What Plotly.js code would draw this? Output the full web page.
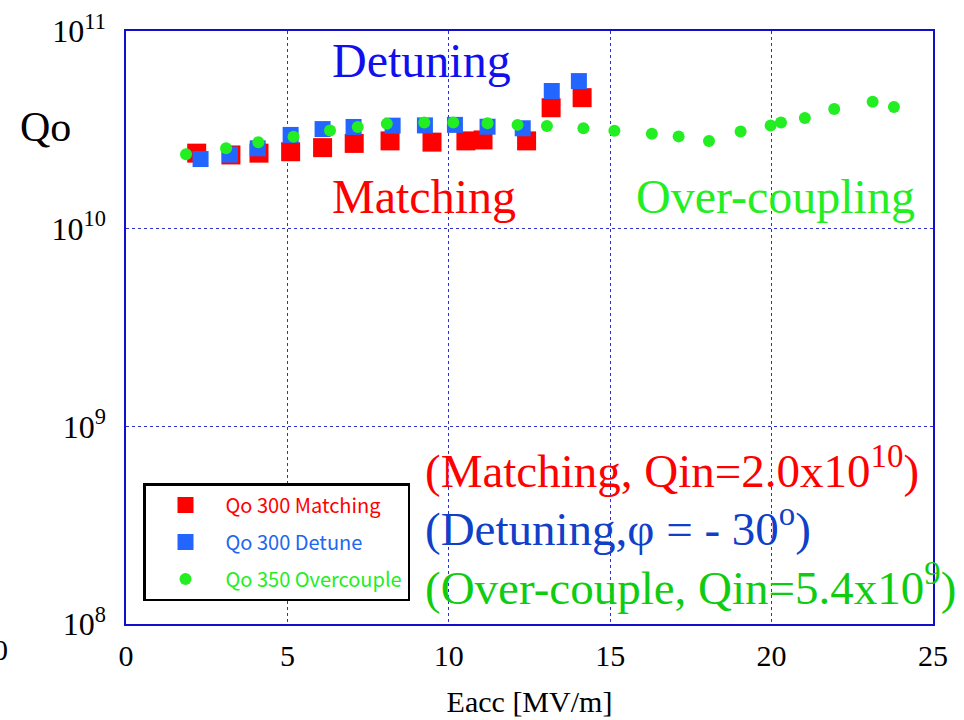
<!DOCTYPE html>
<html>
<head>
<meta charset="utf-8">
<script src="https://cdn.plot.ly/plotly-3.0.1.min.js"></script>
<style>html,body{margin:0;padding:0;background:#fff;}</style>
</head>
<body>
<div id="chart" style="width:964px;height:720px;"></div>
<script>
// Data
var eaccMatch = [2.19, 3.25, 4.12, 5.10, 6.09, 7.07, 8.18, 9.48, 10.53, 11.06, 12.41, 13.17, 14.13];
var qoMatch = [2.41e10, 2.36e10, 2.41e10, 2.45e10, 2.57e10, 2.70e10, 2.78e10, 2.74e10, 2.78e10, 2.81e10, 2.78e10, 4.09e10, 4.60e10];

var eaccDetune = [2.31, 3.22, 4.08, 5.10, 6.09, 7.05, 8.26, 9.26, 10.19, 11.20, 12.29, 13.19, 14.03];
var qoDetune = [2.25e10, 2.37e10, 2.55e10, 2.98e10, 3.19e10, 3.27e10, 3.32e10, 3.33e10, 3.35e10, 3.28e10, 3.22e10, 4.97e10, 5.58e10];

var eaccOver = [1.86, 3.10, 4.10, 5.19, 6.32, 7.18, 8.08, 9.24, 10.14, 11.20, 12.13, 13.04, 14.17, 15.13, 16.29, 17.12, 18.06, 19.04, 19.97, 20.29, 21.03, 21.94, 23.13, 23.79];
var qoOver = [2.38e10, 2.55e10, 2.74e10, 2.92e10, 3.14e10, 3.27e10, 3.39e10, 3.44e10, 3.44e10, 3.41e10, 3.35e10, 3.31e10, 3.22e10, 3.13e10, 3.02e10, 2.93e10, 2.78e10, 3.10e10, 3.33e10, 3.44e10, 3.63e10, 4.03e10, 4.39e10, 4.13e10];

var seriesNames = ['Qo 300 Matching', 'Qo 300 Detune', 'Qo 350 Overcouple'];
var xTickVals = [0, 5, 10, 15, 20, 25];
var yTickVals = [1e8, 1e9, 1e10, 1e11];
var yTickText = ['10<sup>8</sup>', '10<sup>9</sup>', '10<sup>10</sup>', '10<sup>11</sup>'];

var serif = 'Liberation Serif, Times New Roman, serif';
var sans = 'Noto Sans CJK JP, Noto Sans, sans-serif';

var traces = [
  {x: eaccMatch, y: qoMatch, mode: 'markers', type: 'scatter', legendgroup: 'a',
   name: '<span style="color:#ff0000">' + seriesNames[0] + '</span>',
   marker: {symbol: 'square', size: 19, color: '#ff0000', line: {width: 0}}},
  {x: eaccDetune, y: qoDetune, mode: 'markers', type: 'scatter', legendgroup: 'b',
   name: '<span style="color:#2266f0">' + seriesNames[1] + '</span>',
   marker: {symbol: 'square', size: 16, color: '#2266ff', line: {width: 0}}},
  {x: eaccOver, y: qoOver, mode: 'markers', type: 'scatter', legendgroup: 'c',
   name: '<span style="color:#22ee22">' + seriesNames[2] + '</span>',
   marker: {symbol: 'circle', size: 12, color: '#22ee22', line: {width: 0}}}
];

function px(x) { return (x - 126) / 807; }
function py(y) { return (624 - y) / 593; }

var layout = {
  width: 964, height: 720,
  margin: {l: 126, r: 31, t: 31, b: 96},
  paper_bgcolor: '#ffffff', plot_bgcolor: '#ffffff',
  showlegend: true,
  legend: {
    x: px(143), y: py(483), xanchor: 'left', yanchor: 'top',
    bgcolor: '#ffffff', bordercolor: '#000000', borderwidth: 2.5,
    font: {family: sans, size: 20, color: '#000'},
    tracegroupgap: 8, itemwidth: 70, traceorder: 'grouped'
  },
  xaxis: {
    range: [0, 25], tickvals: xTickVals, ticks: '',
    showline: true, linecolor: '#1010cc', linewidth: 1.5, mirror: true,
    showgrid: true, gridcolor: '#3030cc', griddash: 'dot', gridwidth: 1,
    zeroline: false, ticklabelstandoff: 4,
    tickfont: {family: serif, size: 30, color: '#000'},
    title: {text: 'Eacc [MV/m]', font: {family: serif, size: 30, color: '#000'}, standoff: 20}
  },
  yaxis: {
    type: 'log', range: [8, 11], tickvals: yTickVals, ticktext: yTickText, ticks: '',
    showline: true, linecolor: '#1010cc', linewidth: 1.5, mirror: true,
    showgrid: true, gridcolor: '#3030cc', griddash: 'dot', gridwidth: 1,
    zeroline: false, ticklabelstandoff: 12,
    tickfont: {family: serif, size: 32, color: '#000'}
  },
  annotations: [
    {xref: 'paper', yref: 'paper', x: px(45), y: py(127), text: 'Qo', showarrow: false,
     font: {family: serif, size: 42, color: '#000'}, xanchor: 'center', yanchor: 'middle'},
    {xref: 'paper', yref: 'paper', x: px(421), y: py(60), text: 'Detuning', showarrow: false,
     font: {family: serif, size: 48, color: '#1010ee'}, xanchor: 'center', yanchor: 'middle'},
    {xref: 'paper', yref: 'paper', x: px(424), y: py(197), text: 'Matching', showarrow: false,
     font: {family: serif, size: 48, color: '#ff0000'}, xanchor: 'center', yanchor: 'middle'},
    {xref: 'paper', yref: 'paper', x: px(775), y: py(197), text: 'Over-coupling', showarrow: false,
     font: {family: serif, size: 48, color: '#22ee22'}, xanchor: 'center', yanchor: 'middle'},
    {xref: 'paper', yref: 'paper', x: px(423), y: py(468), text: '(Matching, Qin=2.0x10<sup>10</sup>)', showarrow: false,
     font: {family: serif, size: 47, color: '#ff0000'}, xanchor: 'left', yanchor: 'middle'},
    {xref: 'paper', yref: 'paper', x: px(423), y: py(525), text: '(Detuning,φ = - 30<sup>o</sup>)', showarrow: false,
     font: {family: serif, size: 47, color: '#1040c8'}, xanchor: 'left', yanchor: 'middle'},
    {xref: 'paper', yref: 'paper', x: px(423), y: py(584), text: '(Over-couple, Qin=5.4x10<sup>9</sup>)', showarrow: false,
     font: {family: serif, size: 47, color: '#10cc10'}, xanchor: 'left', yanchor: 'middle'},
    {xref: 'paper', yref: 'paper', x: px(10), y: py(650), text: '0', showarrow: false,
     font: {family: serif, size: 30, color: '#000'}, xanchor: 'right', yanchor: 'middle'}
  ]
};

Plotly.newPlot('chart', traces, layout, {displayModeBar: false, responsive: false});
</script>
</body>
</html>
